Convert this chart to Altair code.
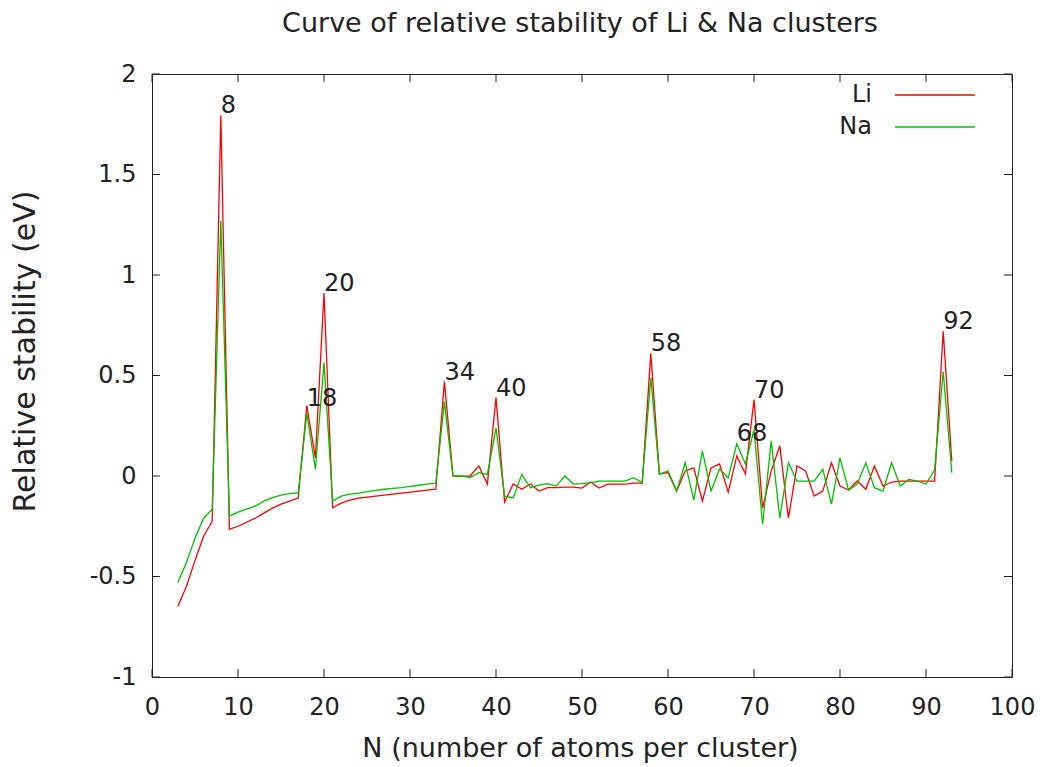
import altair as alt
import pandas as pd

# ---- data ----
N = list(range(3, 94))
li = [-0.648, -0.55, -0.42, -0.30, -0.225, 1.795, -0.265, -0.25, -0.23, -0.21,
      -0.185, -0.16, -0.14, -0.125, -0.11, 0.35, 0.09, 0.91, -0.158, -0.135,
      -0.12, -0.11, -0.105, -0.10, -0.095, -0.09, -0.085, -0.08, -0.075, -0.07,
      -0.066, 0.47, 0.0, -0.002, 0.0, 0.05, -0.04, 0.39, -0.13, -0.04,
      -0.066, -0.04, -0.075, -0.058, -0.058, -0.055, -0.055, -0.06, -0.03, -0.06,
      -0.04, -0.04, -0.04, -0.035, -0.035, 0.61, 0.01, 0.017, -0.075, 0.025,
      0.04, -0.125, 0.04, 0.06, -0.08, 0.10, 0.01, 0.38, -0.16, 0.025,
      0.15, -0.21, 0.05, 0.025, -0.10, -0.075, 0.066, -0.05, -0.07, -0.025,
      -0.066, 0.05, -0.05, -0.03, -0.025, -0.025, -0.025, -0.025, -0.025, 0.72,
      0.075]
na = [-0.53, -0.43, -0.31, -0.21, -0.165, 1.27, -0.20, -0.18, -0.165, -0.15,
      -0.125, -0.108, -0.095, -0.088, -0.083, 0.31, 0.035, 0.565, -0.125, -0.10,
      -0.09, -0.085, -0.078, -0.072, -0.066, -0.062, -0.058, -0.052, -0.046, -0.04,
      -0.035, 0.37, 0.0, 0.0, -0.008, 0.017, 0.008, 0.24, -0.10, -0.108,
      0.008, -0.058, -0.045, -0.038, -0.05, 0.0, -0.04, -0.038, -0.033, -0.025,
      -0.025, -0.025, -0.025, -0.008, -0.033, 0.49, 0.01, 0.025, -0.075, 0.066,
      -0.12, 0.125, -0.075, 0.035, -0.01, 0.16, 0.06, 0.23, -0.24, 0.175,
      -0.21, 0.066, -0.025, -0.025, -0.025, 0.033, -0.14, 0.09, -0.07, -0.04,
      0.066, -0.058, -0.075, 0.066, -0.05, -0.017, -0.025, -0.04, 0.03, 0.52,
      0.016]
series_names = ["Li", "Na"]
series_colors = ["#ff0000", "#00c000"]

label_text = ["8", "18", "20", "34", "40", "58", "68", "70", "92"]
label_n = [8, 18, 20, 34, 40, 58, 68, 70, 92]
label_v = [1.795, 0.34, 0.91, 0.47, 0.39, 0.61, 0.165, 0.38, 0.72]

x_ticks = [0, 10, 20, 30, 40, 50, 60, 70, 80, 90, 100]
y_ticks = [-1, -0.5, 0, 0.5, 1, 1.5, 2]

title_text = ["Curve of relative stability of Li & Na clusters"]

FONT = "DejaVu Sans"
TXT = "#222222"
W, H = 860, 603

df = pd.DataFrame({
    "N": N * 2,
    "value": li + na,
    "series": ["Li"] * len(N) + ["Na"] * len(N),
})
labels_df = pd.DataFrame({"N": label_n, "value": label_v, "text": label_text})
xt_df = pd.DataFrame({"t": x_ticks})
yt_df = pd.DataFrame({"t": y_ticks})
leg_df = pd.DataFrame({"series": series_names})
title_df = pd.DataFrame({"title": title_text})

xscale = alt.Scale(domain=[0, 100], nice=False, zero=False)
yscale = alt.Scale(domain=[-1, 2], nice=False, zero=False)
cscale = alt.Scale(domain=series_names, range=series_colors)

x_axis = alt.Axis(values=x_ticks, title="N (number of atoms per cluster)", grid=False,
                  ticks=False, domain=False, labelFont=FONT, labelFontSize=24,
                  labelColor=TXT, labelPadding=18, labelFlush=False, labelOverlap=False,
                  labelExpr="'' + datum.value",
                  titleFont=FONT, titleFontSize=27,
                  titleFontWeight="normal", titleColor=TXT, titleX=428, titleY=71,
                  titleBaseline="middle")
y_axis = alt.Axis(values=y_ticks, title="Relative stability (eV)", grid=False,
                  ticks=False, domain=False, labelFont=FONT, labelFontSize=24,
                  labelColor=TXT, labelPadding=16, labelFlush=False, labelOverlap=False,
                  labelExpr="'' + datum.value",
                  titleFont=FONT, titleFontSize=30,
                  titleFontWeight="normal", titleColor=TXT, titleX=-127, titleY=277,
                  titleAlign="center", titleBaseline="middle", titleAngle=270)

base = alt.Chart(df)

def series_line(name):
    return base.transform_filter(alt.datum.series == name).mark_line(
        strokeWidth=1.3, interpolate="linear"
    ).encode(
        x=alt.X("N:Q", scale=xscale, axis=x_axis),
        y=alt.Y("value:Q", scale=yscale, axis=y_axis),
        color=alt.Color("series:N", scale=cscale, legend=None),
    )

lines = series_line("Li") + series_line("Na")

text = alt.Chart(labels_df).mark_text(
    align="left", baseline="middle", dy=-9, font=FONT, fontSize=24, color=TXT
).encode(
    x=alt.X("N:Q", scale=xscale),
    y=alt.Y("value:Q", scale=yscale),
    text="text:N",
)

tick_style = dict(color=TXT, strokeWidth=1)
xt_bottom = alt.Chart(xt_df).mark_rule(**tick_style).encode(
    x=alt.X("t:Q", scale=xscale), y=alt.value(H), y2=alt.value(H - 8))
xt_top = alt.Chart(xt_df).mark_rule(**tick_style).encode(
    x=alt.X("t:Q", scale=xscale), y=alt.value(0), y2=alt.value(8))
yt_left = alt.Chart(yt_df).mark_rule(**tick_style).encode(
    y=alt.Y("t:Q", scale=yscale), x=alt.value(0), x2=alt.value(8))
yt_right = alt.Chart(yt_df).mark_rule(**tick_style).encode(
    y=alt.Y("t:Q", scale=yscale), x=alt.value(W), x2=alt.value(W - 8))

leg_layers = []
for i, name in enumerate(series_names):
    ypix = 21 + 32 * i
    leg_layers.append(
        alt.Chart(leg_df).transform_filter(alt.datum.series == name).mark_rule(strokeWidth=1.3).encode(
            x=alt.value(743), x2=alt.value(823), y=alt.value(ypix),
            color=alt.Color("series:N", scale=cscale, legend=None))
    )
    leg_layers.append(
        alt.Chart(leg_df).transform_filter(alt.datum.series == name).mark_text(
            align="right", baseline="middle", font=FONT, fontSize=24, color=TXT).encode(
            x=alt.value(720), y=alt.value(ypix), text="series:N")
    )

title_mark = alt.Chart(title_df).mark_text(
    align="center", baseline="middle", font=FONT, fontSize=27, color=TXT
).encode(x=alt.value(428), y=alt.value(-50), text="title:N")

chart = alt.layer(
    lines, text, xt_bottom, xt_top, yt_left, yt_right, *leg_layers, title_mark
).properties(
    width=W, height=H,
    padding={"left": 152, "top": 74, "right": 28, "bottom": 90},
    autosize="none",
    background="white",
).configure_view(stroke=TXT, strokeWidth=1)

chart.save("out.html", embed_options={"renderer": "svg", "actions": False})
